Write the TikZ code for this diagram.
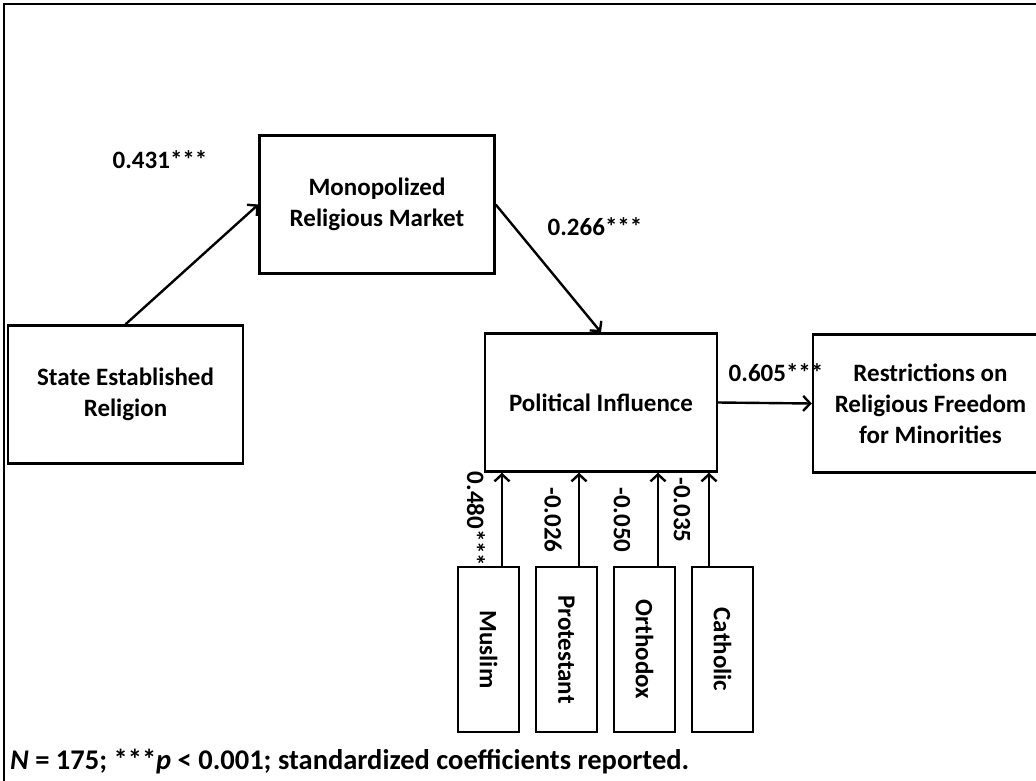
\documentclass[tikz,border=0pt]{standalone}
\usepackage{fontspec}
\setmainfont{Carlito}
\usetikzlibrary{arrows.meta, positioning}

\begin{document}
\begin{tikzpicture}[x=1pt, y=-1pt,
            box/.style={rectangle, draw=black, line width=2.4pt, align=center, inner sep=0pt, font=\fontsize{25}{31}\selectfont\bfseries},
            wbox/.style={box, minimum width=235pt, minimum height=138pt},
            vbox/.style={box, minimum width=165pt, minimum height=61pt, rotate=-90},
            arr/.style={-{Straight Barb[length=7pt, width=15pt]}, line width=2.4pt},
            coef/.style={font=\fontsize{25}{30}\selectfont\bfseries, inner sep=0pt}]
            \useasboundingbox (0,0) rectangle (1036,780);
            \clip (0,0) rectangle (1036,780);
            \draw[line width=2pt] (4,800) -- (4,4) -- (1050,4);
            % main path
            \node[wbox] (state) at (125.5,394.5) {State Established\\Religion};
            \node[wbox] (market) at (377,204.5) {Monopolized\\Religious Market};
            \node[wbox, minimum width=232pt] (infl) at (601,402.5) {Political Influence};
            \node[wbox] (restr) at (930.5,403.5) {Restrictions on\\Religious Freedom\\for Minorities};
            % denominations
            \node[vbox] (muslim) at (488.5,649.5) {Muslim};
            \node[vbox] (prot) at (566.5,649.5) {Protestant};
            \node[vbox] (orth) at (644.5,649.5) {Orthodox};
            \node[vbox] (cath) at (722.5,649.5) {Catholic};
            \draw[arr] (state.north) -- (market.west);
            \draw[arr] (market.east) -- (infl.north);
            \draw[arr] (infl.east) -- (restr.west);
            \draw[arr] ([xshift=13.5pt]muslim.west) -- ([xshift=13.5pt]muslim.west |- infl.south);
            \draw[arr] ([xshift=12.5pt]prot.west) -- ([xshift=12.5pt]prot.west |- infl.south);
            \draw[arr] ([xshift=13.5pt]orth.west) -- ([xshift=13.5pt]orth.west |- infl.south);
            \draw[arr] ([xshift=-13.5pt]cath.west) -- ([xshift=-13.5pt]cath.west |- infl.south);
            % coefficients
            \node[coef] (c1) at (160,160) {0.431***};
            \node[coef] (c2) at (595,227) {0.266***};
            \node[coef] (c3) at (776,373) {0.605***};
            \node[coef, rotate=-90] (c4) at (476,519) {0.480***};
            \node[coef, rotate=-90] (c5) at (553,520) {-0.026};
            \node[coef, rotate=-90] (c6) at (622,520) {-0.050};
            \node[coef, rotate=-90] (c7) at (682,510) {-0.035};
            \node[coef, anchor=west, font=\fontsize{28.5}{32}\selectfont\bfseries] (note) at (10,762) {\textit{N} = 175; ***\textit{p} < 0.001; standardized coefficients reported.};
        \end{tikzpicture}
\end{document}
